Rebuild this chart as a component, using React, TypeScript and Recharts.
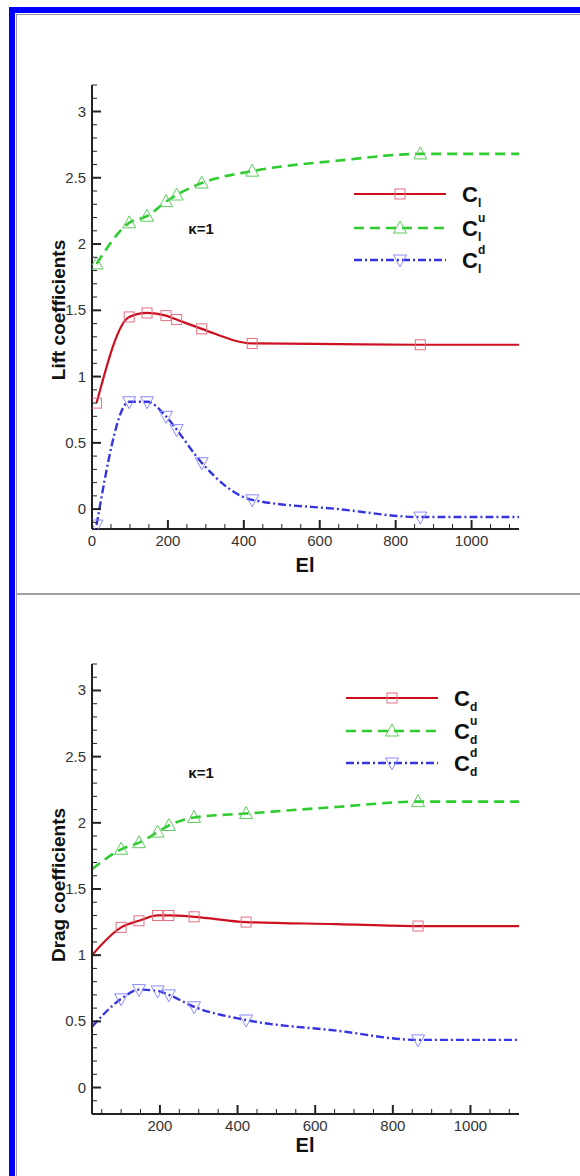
import React from 'react';
import { LineChart, Line, XAxis, YAxis, Legend } from 'recharts';

// ---- lift panel (top) ----
const elLift = [12, 98, 145, 195, 223, 289, 422, 650, 865, 1125];
const markLift = [1, 1, 1, 1, 1, 1, 1, 0, 1, 0];
const clLift = [0.8, 1.45, 1.48, 1.46, 1.43, 1.36, 1.25, 1.245, 1.24, 1.24];
const cluLift = [1.85, 2.16, 2.21, 2.32, 2.37, 2.46, 2.55, 2.63, 2.68, 2.68];
const cldLift = [-0.12, 0.81, 0.81, 0.7, 0.6, 0.35, 0.07, 0.0, -0.06, -0.06];

// ---- drag panel (bottom) ----
const elDrag = [25, 100, 146, 194, 223, 288, 422, 655, 865, 1125];
const markDrag = [0, 1, 1, 1, 1, 1, 1, 0, 1, 0];
const cdDrag = [1.0, 1.21, 1.26, 1.3, 1.3, 1.29, 1.25, 1.235, 1.22, 1.22];
const cduDrag = [1.65, 1.8, 1.85, 1.93, 1.98, 2.04, 2.07, 2.12, 2.16, 2.16];
const cddDrag = [0.46, 0.67, 0.74, 0.73, 0.7, 0.61, 0.51, 0.43, 0.36, 0.36];

// tick labels
const xLabels = [0, 200, 400, 600, 800, 1000];
const yLabels = [0, 0.5, 1, 1.5, 2, 2.5, 3];

const FONT = '"Liberation Sans", Arial, Helvetica, sans-serif';
const RED = '#cc1020';
const GREEN = '#2ecc2e';
const BLUE = '#3535e0';

const minorTicks = (from: number, to: number, step: number) => {
  const out: number[] = [];
  for (let i = Math.round(from / step); i * step <= to + 1e-9; i++) {
    out.push(Math.round(i * step * 1000) / 1000);
  }
  return out;
};

const buildRows = (el: number[], mark: number[], a: number[], b: number[], c: number[]) =>
  el.map((x, i) => ({ el: x, mark: mark[i] === 1, a: a[i], b: b[i], c: c[i] }));

const liftData = buildRows(elLift, markLift, clLift, cluLift, cldLift);
const dragData = buildRows(elDrag, markDrag, cdDrag, cduDrag, cddDrag);

function Marker({ shape, x, y, color }: any) {
  if (shape === 'square') {
    return <rect x={x - 5} y={y - 5} width={10} height={10} fill="none" stroke={color} strokeWidth={1} />;
  }
  if (shape === 'up') {
    return <polygon points={`${x},${y - 7} ${x - 6.5},${y + 5} ${x + 6.5},${y + 5}`} fill="none" stroke={color} strokeWidth={1} />;
  }
  return <polygon points={`${x},${y + 7} ${x - 6.5},${y - 5} ${x + 6.5},${y - 5}`} fill="none" stroke={color} strokeWidth={1} />;
}

const makeDot = (shape: string, color: string) => (p: any) => {
  const { cx, cy, payload, index } = p;
  if (!payload || !payload.mark || cx == null) return <g key={`d${index}`} />;
  return <Marker key={`d${index}`} shape={shape} x={cx} y={cy} color={color} />;
};

const series = [
  { key: 'a', color: RED, dash: undefined, width: 2.2, shape: 'square', mcolor: '#e07080' },
  { key: 'b', color: GREEN, dash: '10 6', width: 2.6, shape: 'up', mcolor: '#5fcc5f' },
  { key: 'c', color: BLUE, dash: '8 3 2 3', width: 2.4, shape: 'down', mcolor: '#8a8aff' },
];

function XTick(props: any) {
  const { x, y, payload } = props;
  const major = xLabels.includes(payload.value);
  return (
    <g>
      <line x1={x} x2={x} y1={y} y2={y - (major ? 9 : 5)} stroke="#222" strokeWidth={major ? 2 : 1} />
      {major && (
        <text x={x} y={y + 17} textAnchor="middle" fontSize={15} fontFamily={FONT} fill="#333">
          {payload.value}
        </text>
      )}
    </g>
  );
}

function YTick(props: any) {
  const { x, y, payload } = props;
  const major = yLabels.some((v) => Math.abs(v - payload.value) < 1e-6);
  return (
    <g>
      <line x1={x} x2={x + (major ? 9 : 5)} y1={y} y2={y} stroke="#222" strokeWidth={major ? 2 : 1} />
      {major && (
        <text x={x - 6} y={y + 5} textAnchor="end" fontSize={15} fontFamily={FONT} fill="#333">
          {payload.value}
        </text>
      )}
    </g>
  );
}

function LegendBox({ sub, rowsY }: any) {
  const sups = [null, 'u', 'd'];
  return (
    <svg width={180} height={110} style={{ display: 'block' }}>
      {series.map((s, i) => {
        const y = rowsY[i];
        return (
          <g key={s.key}>
            <line x1={14} x2={106} y1={y} y2={y} stroke={s.color} strokeWidth={s.width} strokeDasharray={s.dash} />
            <Marker shape={s.shape} x={60} y={y} color={s.mcolor} />
            <text x={122} y={y + 8} fontSize={22} fontWeight="bold" fontFamily={FONT} fill="#111">C</text>
            {sups[i] && (
              <text x={138} y={y - 6} fontSize={12} fontWeight="bold" fontFamily={FONT} fill="#111">{sups[i]}</text>
            )}
            <text x={138} y={y + 13} fontSize={12} fontWeight="bold" fontFamily={FONT} fill="#111">{sub}</text>
          </g>
        );
      })}
    </svg>
  );
}

function Panel({ data, height, margin, xDomain, yDomain, xMinor, yMinor, sub, legendPos }: any) {
  return (
    <LineChart width={580} height={height} data={data} margin={margin}>
      <XAxis
        type="number"
        dataKey="el"
        domain={xDomain}
        allowDataOverflow
        ticks={xMinor}
        interval={0}
        height={30}
        tickSize={0}
        tickMargin={0}
        tickLine={false}
        tick={<XTick />}
        axisLine={{ stroke: '#222', strokeWidth: 2 }}
      />
      <YAxis
        type="number"
        domain={yDomain}
        allowDataOverflow
        ticks={yMinor}
        interval={0}
        width={60}
        tickSize={0}
        tickMargin={0}
        tickLine={false}
        tick={<YTick />}
        axisLine={{ stroke: '#222', strokeWidth: 2 }}
      />
      <Legend
        layout="vertical"
        align="center"
        verticalAlign="middle"
        wrapperStyle={{ left: legendPos[0], top: legendPos[1], width: 180, height: 110 }}
        content={() => <LegendBox sub={sub} rowsY={legendPos[2]} />}
      />
      {series.map((s) => (
        <Line
          key={s.key}
          dataKey={s.key}
          type="monotone"
          stroke={s.color}
          strokeWidth={s.width}
          strokeDasharray={s.dash}
          dot={makeDot(s.shape, s.mcolor)}
          activeDot={false}
          isAnimationActive={false}
        />
      ))}
    </LineChart>
  );
}

const abs = (left: number, top: number, extra: any = {}) => ({ position: 'absolute' as const, left, top, ...extra });

export default function App() {
  const title: any = { fontFamily: FONT, fontWeight: 'bold', color: '#111', lineHeight: 1, whiteSpace: 'nowrap' };
  return (
    <div style={{ position: 'absolute', left: 0, top: 0, width: 580, height: 1176, background: '#fff', overflow: 'hidden' }}>
      {/* frame */}
      <div style={abs(9, 7, { width: 571, height: 6, background: '#0000ff' })} />
      <div style={abs(9, 7, { width: 6, height: 1169, background: '#0000ff' })} />
      <div style={abs(16, 14, { width: 564, height: 1, background: '#999' })} />
      <div style={abs(16, 14, { width: 1, height: 1162, background: '#999' })} />
      <div style={abs(16, 593, { width: 564, height: 2, background: '#a0a0a0' })} />

      <div style={abs(0, 0)}>
        <Panel
          data={liftData}
          height={594}
          margin={{ top: 85, right: 61, bottom: 35, left: 32 }}
          xDomain={[0, 1125]}
          yDomain={[-0.15, 3.2]}
          xMinor={minorTicks(0, 1100, 50)}
          yMinor={minorTicks(-0.1, 3.2, 0.1)}
          sub="l"
          legendPos={[340, 170, [24, 58, 90]]}
        />
      </div>
      <div style={abs(0, 594)}>
        <Panel
          data={dragData}
          height={582}
          margin={{ top: 70, right: 61, bottom: 32, left: 32 }}
          xDomain={[25, 1125]}
          yDomain={[-0.2, 3.2]}
          xMinor={minorTicks(50, 1100, 50)}
          yMinor={minorTicks(-0.2, 3.2, 0.1)}
          sub="d"
          legendPos={[332, 80, [24, 57, 89]]}
        />
      </div>

      {/* texts */}
      <div style={abs(201, 228, { ...title, fontSize: 15, transform: 'translate(-50%,-50%)' })}>κ=1</div>
      <div style={abs(201, 772, { ...title, fontSize: 15, transform: 'translate(-50%,-50%)' })}>κ=1</div>
      <div style={abs(305, 565, { ...title, fontSize: 20, transform: 'translate(-50%,-50%)' })}>El</div>
      <div style={abs(305, 1145, { ...title, fontSize: 20, transform: 'translate(-50%,-50%)' })}>El</div>
      <div style={abs(58, 310, { ...title, fontSize: 19, transform: 'translate(-50%,-50%) rotate(-90deg)' })}>Lift coefficients</div>
      <div style={abs(58, 885, { ...title, fontSize: 19, transform: 'translate(-50%,-50%) rotate(-90deg)' })}>Drag coefficients</div>
    </div>
  );
}
